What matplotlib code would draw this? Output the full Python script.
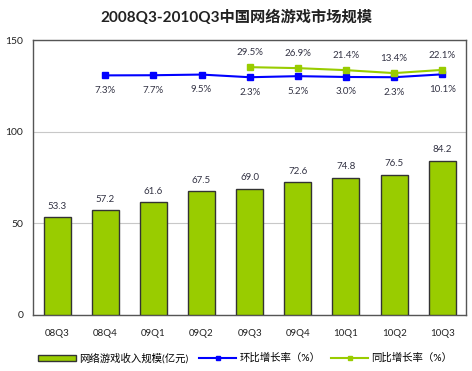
import matplotlib
matplotlib.use("Agg")
import matplotlib.pyplot as plt
import numpy as np

plt.rcParams['font.family'] = ['Lato', 'Noto Sans CJK SC', 'DejaVu Sans']

# 数据
quarters = ["08Q3", "08Q4", "09Q1", "09Q2", "09Q3", "09Q4", "10Q1", "10Q2", "10Q3"]
revenue = [53.3, 57.2, 61.6, 67.5, 69.0, 72.6, 74.8, 76.5, 84.2]
qoq = [7.3, 7.7, 9.5, 2.3, 5.2, 3.0, 2.3, 10.1]  # 从08Q4开始
yoy = [29.5, 26.9, 21.4, 13.4, 22.1]  # 从09Q3开始

x = np.arange(len(quarters))
x_qoq = x[1:]
x_yoy = x[4:]

fig = plt.figure(figsize=(4.72, 3.71), dpi=100)
ax = fig.add_axes([0.070, 0.151, 0.918, 0.741])

bar_color = "#99cc00"
ax.bar(x, revenue, width=0.56, color=bar_color, edgecolor="#333333", linewidth=1.0, zorder=3)
for xi, v in zip(x, revenue):
    ax.text(xi, v + 3.5, f"{v:.1f}", ha="center", va="bottom", fontsize=7, color="#333344")

ax.set_ylim(0, 150)
ax.set_xlim(-0.5, len(quarters) - 0.5)
ax.set_yticks([0, 50, 100, 150])
ax.tick_params(axis="y", length=0, labelsize=7.5, pad=7, colors="#222222")
ax.tick_params(axis="x", length=0, labelsize=7, pad=10, colors="#222222")
ax.set_xticks(x)
ax.set_xticklabels(quarters)
ax.grid(axis="y", color="#c8c8c8", linewidth=0.8, zorder=0)
for s in ax.spines.values():
    s.set_color("#555555")
    s.set_linewidth(1.0)

# 增长率用隐藏的次坐标轴
ax2 = ax.twinx()
ax2.set_ylim(-640, 102.7)
ax2.set_yticks([])
for s in ax2.spines.values():
    s.set_visible(False)

ax2.plot(x_qoq, qoq, color="#0000ff", marker="s", markersize=5, linewidth=1.5, zorder=4)
ax2.plot(x_yoy, yoy, color="#99cc00", marker="s", markersize=5, linewidth=1.5, zorder=4)
for xi, v in zip(x_qoq, qoq):
    ax2.text(xi, v - 28, f"{v:.1f}%", ha="center", va="top", fontsize=7, color="#333344")
for xi, v in zip(x_yoy, yoy):
    ax2.text(xi, v + 28, f"{v:.1f}%", ha="center", va="bottom", fontsize=7, color="#333344")

fig.text(0.5, 0.952, "2008Q3-2010Q3中国网络游戏市场规模", ha="center", va="center",
         fontsize=11, fontweight="bold", color="#222222")

from matplotlib.patches import Patch
from matplotlib.lines import Line2D
handles = [
    Patch(facecolor=bar_color, edgecolor="#333333"),
    Line2D([], [], color="#0000ff", marker="s", markersize=3, linewidth=1.5),
    Line2D([], [], color="#99cc00", marker="s", markersize=3, linewidth=1.5),
]
labels = ["网络游戏收入规模(亿元)", "环比增长率（%）", "同比增长率（%）"]
fig.legend(handles, labels, loc="center", bbox_to_anchor=(0.52, 0.035), ncol=3, frameon=False,
           fontsize=7.5, handlelength=3.6, handleheight=0.5, columnspacing=1.0, handletextpad=0.3)

fig.savefig("out.png", dpi=100)
